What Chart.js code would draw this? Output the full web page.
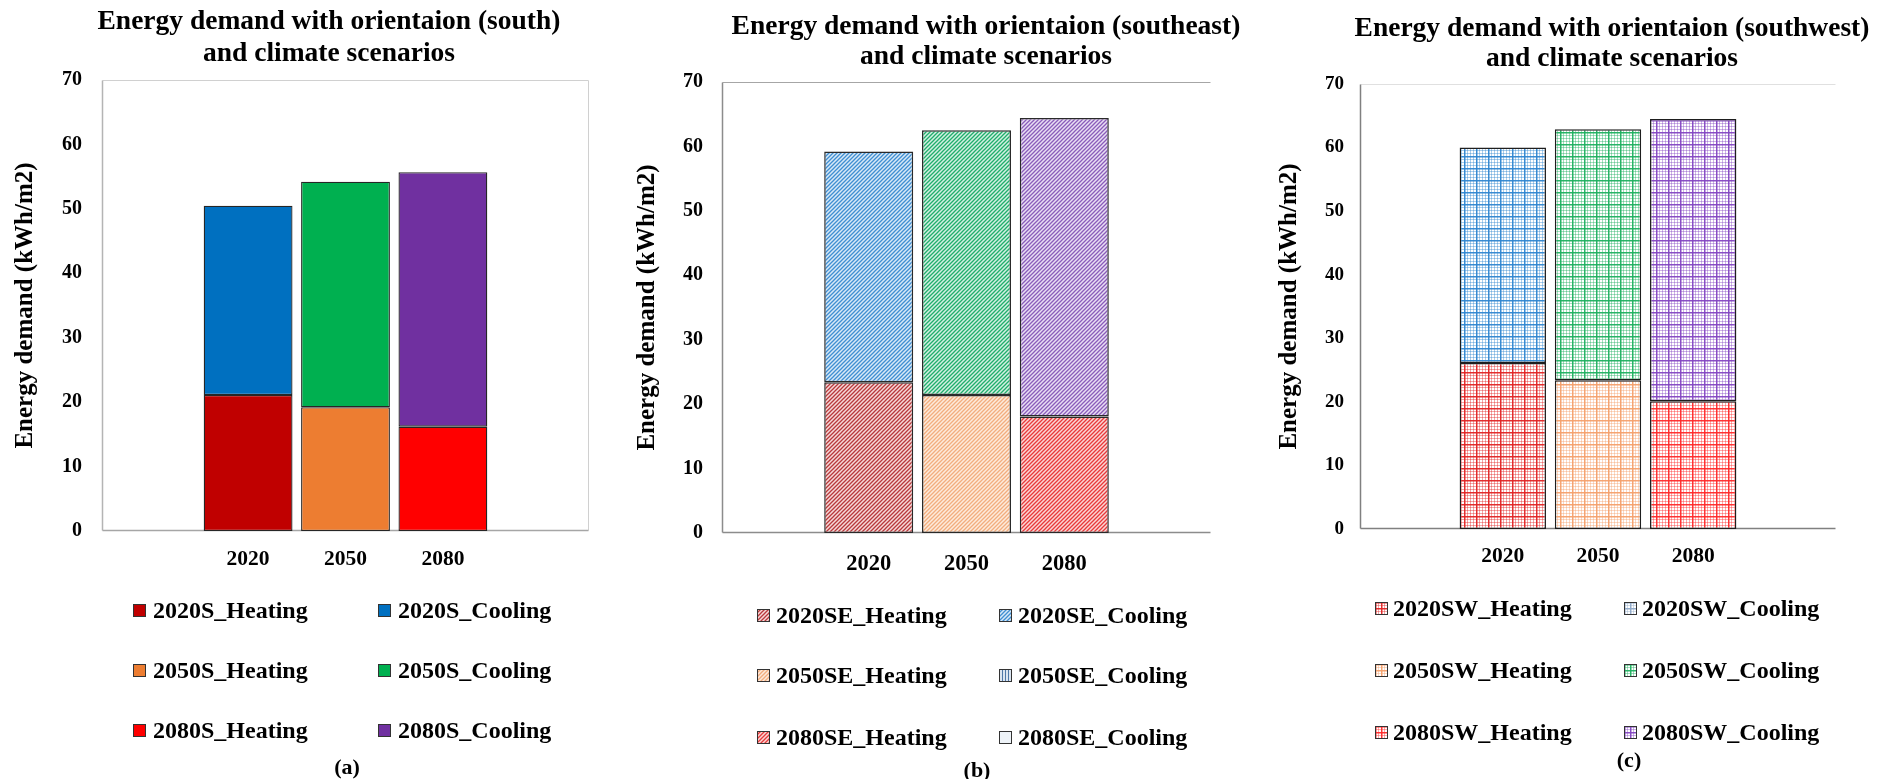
<!DOCTYPE html>
<html>
<head>
<meta charset="utf-8">
<script src="https://cdn.jsdelivr.net/npm/chart.js@4.4.0/dist/chart.umd.min.js"></script>
<style>
  body { margin: 0; background: #fff; width: 1890px; height: 779px; overflow: hidden; position: relative;
         font-family: 'Liberation Serif', 'Times New Roman', serif; font-weight: bold; color: #000; }
  .panel { position: absolute; top: 0; width: 630px; height: 779px; }
  .title { position: absolute; font-size: 27.5px; text-align: center; white-space: nowrap; transform: translateX(-50%); }
  .item { position: absolute; display: flex; align-items: center; height: 28px; line-height: 28px; font-size: 24px; white-space: nowrap; }
  .item canvas { display: block; }
  .caption { position: absolute; font-size: 22px; transform: translate(-50%, -50%); }
</style>
</head>
<body>
<div class="panel" style="left:0px"><canvas id="chartS" width="630" height="779"></canvas></div>
<div class="panel" style="left:630px"><canvas id="chartSE" width="630" height="779"></canvas></div>
<div class="panel" style="left:1260px"><canvas id="chartSW" width="630" height="779"></canvas></div>

<div class="title" style="left:329px; top:4px; line-height:32px">Energy demand with orientaion (south)<br>and climate scenarios</div>
<div class="title" style="left:986px; top:10px; line-height:30px">Energy demand with orientaion (southeast)<br>and climate scenarios</div>
<div class="title" style="left:1612px; top:12px; line-height:30px">Energy demand with orientaion (southwest)<br>and climate scenarios</div>

<div class="caption" style="left:347px; top:767px">(a)</div>
<div class="caption" style="left:977px; top:770px">(b)</div>
<div class="caption" style="left:1629px; top:760px">(c)</div>

<script>
// ---- data ----
const categories = ['', '2020', '2050', '2080', ''];
const years = ['2020', '2050', '2080'];

const southHeating = [21.1, 19.2, 16.2];
const southCooling = [29.4, 35.0, 39.5];

const southeastHeating = [23.4, 21.4, 18.1];
const southeastCooling = [35.8, 41.1, 46.3];

const southwestHeating = [26.1, 23.4, 20.1];
const southwestCooling = [33.9, 39.5, 44.4];

const yAxisTitle = 'Energy demand (kWh/m2)';
const yMax = 70;
const yStep = 10;

const serif = "'Liberation Serif', 'Times New Roman', serif";

// ---- fill patterns ----
function hatch(line, bg, size) {
    size = size || 4;
    const c = document.createElement('canvas');
    c.width = c.height = size;
    const g = c.getContext('2d');
    g.fillStyle = bg;
    g.fillRect(0, 0, size, size);
    g.strokeStyle = line;
    g.lineWidth = 1.3;
    g.beginPath();
    g.moveTo(-1, size + 1); g.lineTo(size + 1, -1);
    g.moveTo(-1, 1); g.lineTo(1, -1);
    g.moveTo(size - 1, size + 1); g.lineTo(size + 1, size - 1);
    g.stroke();
    return g.createPattern(c, 'repeat');
}

function stripes(line, bg) {
    const c = document.createElement('canvas');
    c.width = 3; c.height = 3;
    const g = c.getContext('2d');
    g.fillStyle = bg;
    g.fillRect(0, 0, 3, 3);
    g.fillStyle = line;
    g.fillRect(0, 0, 1, 3);
    return g.createPattern(c, 'repeat');
}

function grid(line, size) {
    size = size || 12;
    const c = document.createElement('canvas');
    c.width = c.height = size;
    const g = c.getContext('2d');
    g.fillStyle = '#fff';
    g.fillRect(0, 0, size, size);
    g.globalAlpha = 0.4;
    g.fillStyle = line;
    for (let p = 3; p < size; p += 3) {
        g.fillRect(p, 0, 1, size);
        g.fillRect(0, p, size, 1);
    }
    g.globalAlpha = 0.95;
    g.fillRect(0, 0, 1.5, size);
    g.fillRect(0, 0, size, 1.5);
    return g.createPattern(c, 'repeat');
}

function buildDatasets(tag, heating, cooling, heatFill, coolFill, border, borderWidth, swatch) {
    let out = [];
    years.forEach(function (yr, i) {
        out.push({
            label: yr + tag + '_Heating',
            data: categories.map(c => c === yr ? heating[i] : null),
            backgroundColor: heatFill[i],
            swatch: swatch ? swatch[i * 2] : heatFill[i],
            borderColor: border, borderWidth: borderWidth, borderSkipped: false
        });
        out.push({
            label: yr + tag + '_Cooling',
            data: categories.map(c => c === yr ? cooling[i] : null),
            backgroundColor: coolFill[i],
            swatch: swatch ? swatch[i * 2 + 1] : coolFill[i],
            borderColor: border, borderWidth: borderWidth, borderSkipped: false
        });
    });
    return out;
}

// frame lines around the plot area
const framePlugin = {
    id: 'frame',
    beforeDatasetsDraw(chart, args, o) {
        const a = chart.chartArea;
        const ctx = chart.ctx;
        const L = Math.round(a.left) + 0.5, R = Math.round(a.right) - 0.5;
        const T = Math.round(a.top) + 0.5, B = Math.round(a.bottom) - 0.5;
        ctx.save();
        function seg(x1, y1, x2, y2, col, w) {
            if (!col) return;
            ctx.strokeStyle = col;
            ctx.lineWidth = w || 1;
            ctx.beginPath(); ctx.moveTo(x1, y1); ctx.lineTo(x2, y2); ctx.stroke();
        }
        seg(L, T, R, T, o.top);
        seg(R, T, R, B, o.right);
        seg(L, T, L, B, o.left, 1.5);
        seg(L, B, R, B, o.bottom, 1.5);
        ctx.restore();
    }
};

function makeChart(id, datasets, s) {
    return new Chart(document.getElementById(id), {
        type: 'bar',
        data: { labels: categories, datasets: datasets },
        plugins: [framePlugin],
        options: {
            responsive: false,
            animation: false,
            datasets: { bar: { categoryPercentage: 1, barPercentage: s.barPct } },
            layout: { padding: { left: 0, top: s.top, right: s.right, bottom: s.bottom } },
            plugins: {
                legend: { display: false },
                tooltip: { enabled: false },
                frame: s.frame
            },
            scales: {
                x: {
                    stacked: true,
                    grid: { display: false, drawTicks: false },
                    border: { display: false },
                    ticks: { color: '#000', padding: s.xPad, font: { family: serif, size: s.xFont, weight: 'bold' } },
                    afterFit: function (scale) { scale.height = 70; }
                },
                y: {
                    stacked: true,
                    min: 0, max: yMax,
                    grid: { display: false, drawTicks: false },
                    border: { display: false },
                    ticks: { stepSize: yStep, color: '#000', padding: s.yPad, font: { family: serif, size: s.yFont, weight: 'bold' } },
                    title: {
                        display: true, text: yAxisTitle, color: '#000',
                        font: { family: serif, size: 25, weight: 'bold' },
                        padding: { top: s.titlePad, bottom: 0 }
                    },
                    afterFit: function (scale) { scale.width = s.yWidth; }
                }
            }
        }
    });
}

// ---- panel (a): solid fills ----
const solidHeat = ['#c00000', '#ed7d31', '#ff0000'];
const solidCool = ['#0070c0', '#00b050', '#7030a0'];
const chartS = makeChart('chartS',
    buildDatasets('S', southHeating, southCooling, solidHeat, solidCool, '#262626', 1.3),
    { barPct: 0.912, top: 80, right: 41, bottom: 178, xPad: 16, xFont: 21.5, yPad: 20, yFont: 20, titlePad: 11, yWidth: 102,
      frame: { top: '#d0d0d0', right: '#d0d0d0', left: '#b4b4b4', bottom: '#a6a6a6' } });

// ---- panel (b): diagonal hatch ----
const hatchHeat = [hatch('#b8393b', '#f6d9d9'), hatch('#f2ad7e', '#fdebdc'), hatch('#e83a3a', '#fbd6d6')];
const hatchCool = [hatch('#3f8fd2', '#d9e9f7'), hatch('#1fae6c', '#d4f0e2'), hatch('#8a5cba', '#e9def4')];
const seSwatch = [hatchHeat[0], hatchCool[0], hatchHeat[1], stripes('#4f78a8', '#dbe5f1'), hatchHeat[2], '#eef3f8'];
const chartSE = makeChart('chartSE',
    buildDatasets('SE', southeastHeating, southeastCooling, hatchHeat, hatchCool, '#2a2a2a', 1.5, seSwatch),
    { barPct: 0.91, top: 82, right: 49, bottom: 176, xPad: 18, xFont: 22.5, yPad: 19, yFont: 20, titlePad: 3, yWidth: 92,
      frame: { top: '#a6a6a6', right: null, left: '#8c8c8c', bottom: '#8c8c8c' } });

// ---- panel (c): grid pattern ----
const gridHeat = [grid('#e02424'), grid('#f4a06c'), grid('#ff2a2a')];
const gridCool = [grid('#2f86d0'), grid('#1fb060'), grid('#8446c2')];
const swSwatch = [grid('#e02424', 6), grid('#8fa9c8', 6), grid('#f4a06c', 6), grid('#1fb060', 6), grid('#ff2a2a', 6), grid('#8446c2', 6)];
const chartSW = makeChart('chartSW',
    buildDatasets('SW', southwestHeating, southwestCooling, gridHeat, gridCool, '#1e1e1e', 1.5, swSwatch),
    { barPct: 0.907, top: 84, right: 54, bottom: 180, xPad: 15, xFont: 21.5, yPad: 16, yFont: 19, titlePad: 15, yWidth: 100,
      frame: { top: '#e0e0e0', right: null, left: '#808080', bottom: '#808080' } });

// ---- html legends built from the datasets ----
function legend(chart, cols, rows, gap) {
    chart.data.datasets.forEach(function (ds, i) {
        const item = document.createElement('div');
        item.className = 'item';
        item.style.left = cols[i % 2] + 'px';
        item.style.top = (rows[Math.floor(i / 2)] - 14) + 'px';
        const sw = document.createElement('canvas');
        sw.width = 13; sw.height = 13;
        sw.style.marginRight = gap + 'px';
        const g = sw.getContext('2d');
        g.fillStyle = ds.swatch;
        g.fillRect(0, 0, 13, 13);
        g.strokeStyle = '#333';
        g.lineWidth = 1;
        g.strokeRect(0.5, 0.5, 12, 12);
        item.appendChild(sw);
        item.appendChild(document.createTextNode(ds.label));
        document.body.appendChild(item);
    });
}
legend(chartS, [133, 378], [610, 670, 730], 7);
legend(chartSE, [757, 999], [615, 675, 737], 6);
legend(chartSW, [1375, 1624], [608, 670, 732], 5);
</script>
</body>
</html>
